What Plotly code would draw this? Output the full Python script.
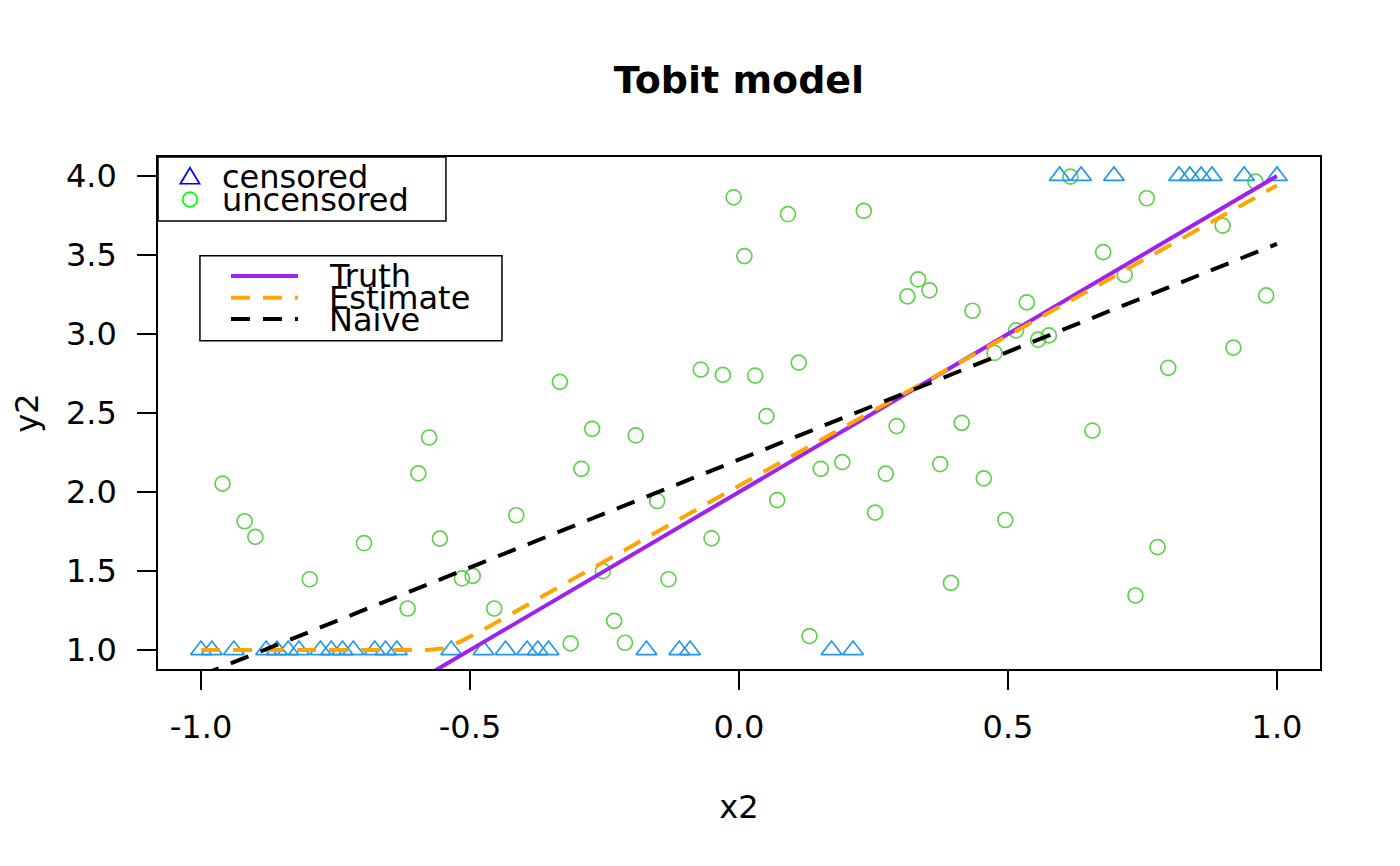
import plotly.graph_objects as go

# censored observations (y stuck at the limits 1 and 4)
censored_x = [-1.0, -0.98, -0.939, -0.879, -0.859, -0.838, -0.818, -0.778, -0.758,
              -0.737, -0.717, -0.677, -0.657, -0.636, -0.535, -0.475, -0.434, -0.394,
              -0.374, -0.354, -0.172, -0.111, -0.091, 0.172, 0.212,
              0.596, 0.636, 0.697, 0.818, 0.838, 0.859, 0.879, 0.939, 1.0]
censored_y = [1.0] * 25 + [4.0] * 9

# uncensored observations
uncens_x = [-0.96, -0.919, -0.899, -0.798, -0.697, -0.616, -0.596, -0.576, -0.556,
            -0.515, -0.495, -0.455, -0.414, -0.333, -0.313, -0.293, -0.273, -0.253,
            -0.232, -0.212, -0.192, -0.152, -0.131, -0.071, -0.051, -0.030, -0.010,
            0.010, 0.030, 0.051, 0.071, 0.091, 0.111, 0.131, 0.152, 0.192, 0.232,
            0.253, 0.273, 0.293, 0.313, 0.333, 0.354, 0.374, 0.394, 0.414, 0.434,
            0.455, 0.475, 0.495, 0.515, 0.535, 0.556, 0.576, 0.616, 0.657, 0.677,
            0.717, 0.737, 0.758, 0.778, 0.798, 0.899, 0.919, 0.960, 0.980]
uncens_y = [2.053, 1.815, 1.716, 1.448, 1.676, 1.263, 2.118, 2.345, 1.705,
            1.453, 1.469, 1.263, 1.853, 2.697, 1.042, 2.147, 2.400, 1.499,
            1.185, 1.046, 2.358, 1.943, 1.448, 2.775, 1.707, 2.741, 3.865,
            3.493, 2.737, 2.480, 1.949, 3.758, 2.819, 1.088, 2.147, 2.189, 3.779,
            1.870, 2.116, 2.417, 3.238, 3.345, 3.276, 2.177, 1.425, 2.438, 3.147,
            2.086, 2.880, 1.823, 3.023, 3.200, 2.964, 2.991, 3.996, 2.389, 3.518,
            3.375, 1.345, 3.859, 1.651, 2.786, 3.686, 2.914, 3.964, 3.244]

# fitted lines
truth_x = [-1.0, 1.0]
truth_y = [0.0, 4.0]
est_x = [-1.0, -0.58, -0.55, -0.52, -0.48, 0.0, 1.0]
est_y = [1.0, 1.0, 1.01, 1.05, 1.12, 2.04, 3.94]
naive_x = [-1.0, 1.0]
naive_y = [0.84, 3.57]

xtick_vals = [-1.0, -0.5, 0.0, 0.5, 1.0]
xtick_text = ["-1.0", "-0.5", "0.0", "0.5", "1.0"]
ytick_vals = [1.0, 1.5, 2.0, 2.5, 3.0, 3.5, 4.0]
ytick_text = ["1.0", "1.5", "2.0", "2.5", "3.0", "3.5", "4.0"]

FONT = "DejaVu Sans"
DASH = "19px,13px"
LW = 4

fig = go.Figure()
fig.add_trace(go.Scatter(x=uncens_x, y=uncens_y, mode="markers",
                         marker=dict(symbol="circle-open", size=15, color="#61D04F",
                                     line=dict(width=1.7, color="#61D04F"))))
fig.add_trace(go.Scatter(x=censored_x, y=censored_y, mode="markers",
                         marker=dict(symbol="triangle-up-open", size=18, color="#2297E6",
                                     line=dict(width=1.7, color="#2297E6"))))
fig.add_trace(go.Scatter(x=truth_x, y=truth_y, mode="lines",
                         line=dict(color="#A020F0", width=LW)))
fig.add_trace(go.Scatter(x=est_x, y=est_y, mode="lines",
                         line=dict(color="#FFA500", width=LW, dash=DASH)))
fig.add_trace(go.Scatter(x=naive_x, y=naive_y, mode="lines",
                         line=dict(color="black", width=LW, dash=DASH)))

# legends drawn by hand, R style
shapes = [
    dict(type="rect", xref="paper", yref="paper", x0=0, x1=0.2478, y0=0.875, y1=1.0,
         line=dict(color="black", width=1.5), fillcolor="white", layer="above"),
    dict(type="path", xref="paper", yref="paper", xsizemode="pixel", ysizemode="pixel",
         xanchor=0.0275, yanchor=0.963, path="M-9.6,-7.8 L9.6,-7.8 L0,8.2 Z",
         line=dict(color="#0000FF", width=1.7), layer="above"),
    dict(type="circle", xref="paper", yref="paper", xsizemode="pixel", ysizemode="pixel",
         xanchor=0.0275, yanchor=0.917, x0=-7.3, x1=7.3, y0=-7.3, y1=7.3,
         line=dict(color="#00FF00", width=1.7), layer="above"),
    dict(type="rect", xref="paper", yref="paper", x0=0.0361, x1=0.2960, y0=0.6412, y1=0.8072,
         line=dict(color="black", width=1.5), fillcolor="white", layer="above"),
]
for yy, col, dash in [(0.7676, "#A020F0", "solid"), (0.7252, "#FFA500", DASH),
                      (0.6836, "black", DASH)]:
    shapes.append(dict(type="line", xref="paper", yref="paper", x0=0.0628, x1=0.1205,
                       y0=yy, y1=yy, line=dict(color=col, width=LW, dash=dash),
                       layer="above"))

annotations = []
for txt, xx, yy in [("censored", 0.0542, 0.960), ("uncensored", 0.0542, 0.9166),
                    ("Truth", 0.1459, 0.7672), ("Estimate", 0.1459, 0.7240),
                    ("Naive", 0.1459, 0.6816)]:
    annotations.append(dict(text=txt, x=xx, y=yy, xref="paper", yref="paper",
                            xanchor="left", yanchor="middle", showarrow=False,
                            borderpad=0, font=dict(family=FONT, size=32, color="black")))

# the page body adds an 8px offset, so margins are shifted to compensate
fig.update_layout(
    width=1400, height=866,
    margin=dict(l=150, r=88, t=149, b=205),
    paper_bgcolor="white", plot_bgcolor="white",
    showlegend=False,
    title=dict(text="<b>Tobit model</b>", x=0.5, xref="paper", y=1 - 72 / 866,
               yref="container", xanchor="center", yanchor="middle",
               font=dict(family=FONT, size=38, color="black")),
    font=dict(family=FONT, size=32, color="black"),
    shapes=shapes,
    annotations=annotations,
)
fig.update_xaxes(range=[-1.08, 1.08], tickvals=xtick_vals, ticktext=xtick_text,
                 showgrid=False, zeroline=False, showline=True, mirror=True,
                 linecolor="black", linewidth=1.5, ticks="outside", ticklen=19,
                 tickwidth=1.5, tickcolor="black", ticklabelstandoff=10,
                 title=dict(text="x2", standoff=50, font=dict(family=FONT, size=32)))
fig.update_yaxes(range=[0.88, 4.12], tickvals=ytick_vals, ticktext=ytick_text,
                 showgrid=False, zeroline=False, showline=True, mirror=True,
                 linecolor="black", linewidth=1.5, ticks="outside", ticklen=19,
                 tickwidth=1.5, tickcolor="black", ticklabelstandoff=14,
                 title=dict(text="y2", standoff=22, font=dict(family=FONT, size=32)))

fig.write_html("out.html")
